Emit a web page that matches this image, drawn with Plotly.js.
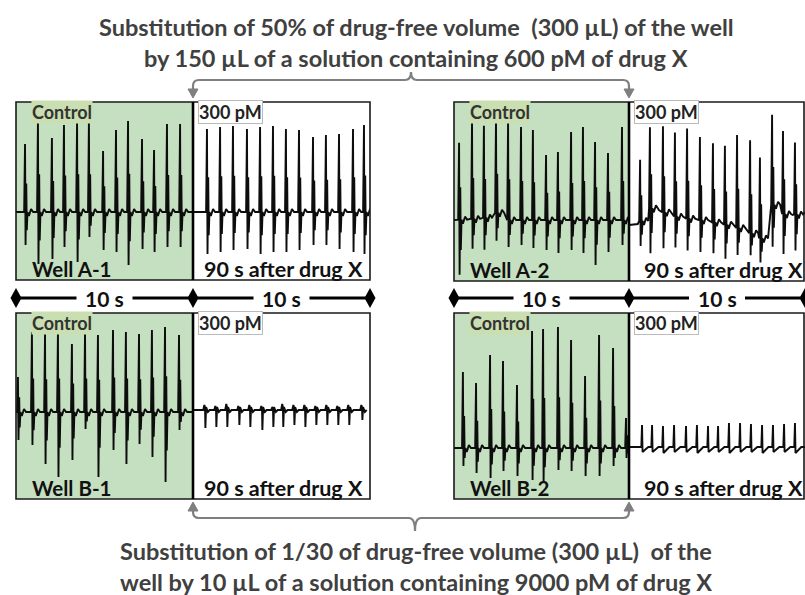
<!DOCTYPE html>
<html>
<head>
<meta charset="utf-8">
<script src="https://cdn.plot.ly/plotly-3.0.1.min.js"></script>
<style>html,body{margin:0;padding:0;background:#fff;}#chart{width:805px;height:595px;}</style>
</head>
<body>
<div id="chart"></div>
<script>
// ===== DATA (time in s, amplitude in arbitrary units, baseline = 0) =====
// Well A-1, control
const a1cTimes   = [0.51,1.24,2.03,2.71,3.45,4.12,4.92,5.65,6.33,7.12,7.80,8.53,9.27];
const a1cPeaks   = [68,90,74,87,90,90,61,82,91,73,62,88,88];
const a1cTroughs = [-33,-52,-47,-35,-50,-25,-38,-40,-53,-37,-40,-35,-35];
// Well A-1, 90 s after drug X
const a1aTimes   = [0.79,1.53,2.26,3.05,3.79,4.52,5.25,5.99,6.78,7.51,8.25,9.04,9.66];
const a1aPeaks   = [83,85,86,83,85,86,83,82,75,77,78,83,87];
const a1aTroughs = [-42,-40,-38,-37,-42,-40,-40,-38,-33,-33,-37,-40,-42];
// Well A-2, control
const a2cTimes   = [0.29,1.03,1.71,2.40,3.09,3.83,4.51,5.26,5.94,6.69,7.37,8.06,8.80,9.60];
const a2cPeaks   = [77,97,92,93,97,93,90,65,68,88,93,78,67,93];
const a2cTroughs = [-55,-30,-32,-28,-27,-25,-28,-30,-33,-30,-33,-45,-32,-25];
const a2cBaseT   = [0,1.7,2.06,2.5,3.0,8.9,9.1,9.4,10];
const a2cBaseV   = [0,2,15,5,0,0,6,0,0];
// Well A-2, 90 s after drug X
const a2aTimes   = [0.63,1.19,1.93,2.61,3.30,4.03,4.77,5.45,6.14,6.88,7.44,8.13,8.75,9.43];
const a2aPeaks   = [61,81,86,84,90,83,79,79,93,93,81,90,83,72];
const a2aTroughs = [-25,-45,-36,-31,-32,-32,-31,-34,-27,-22,-24,-42,-40,-36];
const a2aBaseT   = [0,0.5,1.0,1.36,1.7,2.2,3.0,4.0,5.0,5.8,6.5,7.2,7.6,7.75,7.9,8.2,8.7,9.3,10];
const a2aBaseV   = [-5,-4,8,15,10,5,2,0,-3,-6,-10,-16,-20,5,26,12,6,5,8];
// Well B-1, control
const b1cTimes   = [0.11,0.90,1.64,2.37,3.16,3.90,4.63,5.48,6.21,6.95,7.68,8.42,9.21];
const b1cPeaks   = [35,80,78,80,68,80,77,82,80,78,82,85,77];
const b1cTroughs = [-28,-33,-52,-65,-48,-17,-65,-38,-52,-32,-45,-70,-18];
// Well B-1, 90 s after drug X
const b1aTimes   = [0.68,1.30,1.92,2.60,3.22,3.90,4.52,5.08,5.71,6.33,6.95,7.57,8.19,8.81,9.55];
const b1aPeaks   = [5,4,6,4,5,4,3,6,5,5,4,5,4,5,5];
const b1aTroughs = [-18,-17,-17,-15,-17,-20,-17,-17,-15,-17,-15,-15,-15,-15,-10];
// Well B-2, control
const b2cTimes   = [0.51,1.26,2.06,2.80,3.60,4.46,5.09,5.94,6.69,7.49,8.29,9.09,9.83];
const b2cPeaks   = [76,65,93,87,63,117,119,121,108,72,113,100,30];
const b2cTroughs = [-18,-25,-30,-23,-28,-32,-35,-22,-23,-28,-28,-18,-10];
// Well B-2, 90 s after drug X
const b2aTimes   = [0.74,1.31,1.93,2.56,3.24,3.86,4.49,5.06,5.68,6.31,6.93,7.56,8.18,8.81,9.43];
const b2aPeaks   = [22,22,21,22,21,22,21,21,24,24,23,22,22,23,24];
const b2aTroughs = [-5,-5,-6,-5,-5,-6,-5,-5,-6,-5,-5,-6,-5,-5,-6];

// text
const wellNames   = ['Well A-1','Well A-2','Well B-1','Well B-2'];
const ctrlLabel   = 'Control';
const doseLabel   = '300 pM';
const afterLabel  = '90 s after drug X';
const scaleLabel  = '10 s';
const topText1    = 'Substitution of 50% of drug-free volume \u00a0(300 µL) of the well';
const topText2    = 'by 150 µL of a solution containing 600 pM of drug X';
const botText1    = 'Substitution of 1/30 of drug-free volume (300 µL) \u00a0of the';
const botText2    = 'well by 10 µL of a solution containing 9000 pM of drug X';

// ===== LAYOUT HELPERS =====
const W = 805, H = 595;
const X = px => px / W;
const Y = py => 1 - py / H;
const FONT = 'Lato, "Open Sans", sans-serif';

// spike templates (shape only)
const templates = {
  big:  (P,Q) => [[-0.05,0],[0,P],[0.03,Q],[0.07,0.42*P],[0.10,0.55*Q],[0.14,0],[0.22,-4],[0.34,3],[0.46,0]],
  down: (P,Q) => [[-0.10,0],[-0.04,P],[0,0.5*P],[0.02,Q],[0.06,3],[0.16,-2],[0.26,0]],
  up:   (P,Q) => [[-0.04,0],[0,P],[0.03,Q],[0.22,-2],[0.36,0]]
};

function baseAt(t, bt, bv){
  if(!bt) return 0;
  if(t <= bt[0]) return bv[0];
  for(let i=1;i<bt.length;i++){
    if(t <= bt[i]){ const f=(t-bt[i-1])/(bt[i]-bt[i-1]); return bv[i-1]+f*(bv[i]-bv[i-1]); }
  }
  return bv[bv.length-1];
}

function wave(times, peaks, troughs, kind, bt, bv){
  const pts = [];
  times.forEach((t,i)=>{
    const b = baseAt(t, bt, bv);
    templates[kind](peaks[i], troughs[i]).forEach(([dt,v])=>pts.push([t+dt, b+v]));
  });
  const knots = bt ? bt.map((t,i)=>[t,bv[i]]) : [[0,0],[10,0]];
  knots.forEach(([t,v])=>{
    const inside = times.some(s => t > s-0.11 && t < s+0.47);
    if(!inside) pts.push([t,v]);
  });
  pts.sort((a,b)=>a[0]-b[0]);
  return {x: pts.map(p=>p[0]), y: pts.map(p=>p[1])};
}

// panel geometry (px) : [x0, x1, y0, y1], y range
const panels = [
  {data:[a1cTimes,a1cPeaks,a1cTroughs,'big'],  geo:[16,193,102,280],  yr:[-68,110]},
  {data:[a1aTimes,a1aPeaks,a1aTroughs,'big'],  geo:[193,370,102,280], yr:[-68,110]},
  {data:[a2cTimes,a2cPeaks,a2cTroughs,'big',a2cBaseT,a2cBaseV], geo:[454,629,102,281], yr:[-61,118]},
  {data:[a2aTimes,a2aPeaks,a2aTroughs,'big',a2aBaseT,a2aBaseV], geo:[629,805,102,281], yr:[-61,118]},
  {data:[b1cTimes,b1cPeaks,b1cTroughs,'big'],  geo:[16,193,313,499],  yr:[-87,99]},
  {data:[b1aTimes,b1aPeaks,b1aTroughs,'down'], geo:[193,370,313,499], yr:[-89,97]},
  {data:[b2cTimes,b2cPeaks,b2cTroughs,'big'],  geo:[454,629,313,499], yr:[-51,135]},
  {data:[b2aTimes,b2aPeaks,b2aTroughs,'up'],   geo:[629,805,313,499], yr:[-52,134]}
];

const traces = [];
const layout = {
  width: W, height: H,
  margin: {l:0,r:0,t:0,b:0},
  paper_bgcolor: '#ffffff',
  plot_bgcolor: 'rgba(0,0,0,0)',
  showlegend: false,
  shapes: [], annotations: []
};

panels.forEach((p,i)=>{
  const n = i+1;
  const sfx = n===1 ? '' : n;
  const [t,pk,tr,kind,bt,bv] = p.data;
  const w = wave(t,pk,tr,kind,bt,bv);
  traces.push({type:'scatter', mode:'lines', x:w.x, y:w.y,
    xaxis: 'x'+sfx, yaxis: 'y'+sfx,
    line:{color:'#0d0d0d', width:1.9}, hoverinfo:'skip'});
  const [x0,x1,y0,y1] = p.geo;
  layout['xaxis'+sfx] = {domain:[X(x0),X(x1)], range:[0,10], visible:false, fixedrange:true, anchor:'y'+sfx};
  layout['yaxis'+sfx] = {domain:[Y(y1),Y(y0)], range:p.yr, visible:false, fixedrange:true, anchor:'x'+sfx};
});

const S = layout.shapes, A = layout.annotations;
const GREEN = '#c5e0c0';
// wells: [x0, xmid, x1, y0, y1]
const wells = [[16,193,370,102,280],[454,629,805,102,281],[16,193,370,313,499],[454,629,805,313,499]];
wells.forEach(([x0,xm,x1,y0,y1],k)=>{
  S.push({type:'rect', xref:'paper', yref:'paper', x0:X(x0), x1:X(xm), y0:Y(y1), y1:Y(y0), fillcolor:GREEN, line:{width:0}, layer:'below'});
  S.push({type:'rect', xref:'paper', yref:'paper', x0:X(x0), x1:X(Math.min(x1,804)), y0:Y(y1), y1:Y(y0), line:{color:'#1a1a1a', width:1.6}, layer:'above'});
  S.push({type:'line', xref:'paper', yref:'paper', x0:X(xm), x1:X(xm), y0:Y(y1), y1:Y(y0), line:{color:'#000', width:2.6}, layer:'above'});
  // labels
  const lblY = y0+10;
  A.push({xref:'paper', yref:'paper', x:X(x0+15), y:Y(lblY), xanchor:'left', yanchor:'middle', showarrow:false,
    text:'<b>'+ctrlLabel+'</b>', font:{family:FONT, size:18, color:'#333'}, bgcolor:'#cadfb1', borderpad:0});
  A.push({xref:'paper', yref:'paper', x:X(xm+5), y:Y(lblY), xanchor:'left', yanchor:'middle', showarrow:false,
    text:'<b>'+doseLabel+'</b>', font:{family:FONT, size:18, color:'#222'}, bgcolor:'#ffffff', bordercolor:'#bbbbbb', borderwidth:1, borderpad:0});
  const botY = y1-11;
  A.push({xref:'paper', yref:'paper', x:X(x0+14), y:Y(botY), xanchor:'left', yanchor:'middle', showarrow:false,
    text:'<b>'+wellNames[k]+'</b>', font:{family:FONT, size:20.5, color:'#111'}});
  A.push({xref:'paper', yref:'paper', x:X((xm+x1)/2+(k%2?6:2)), y:Y(botY), xanchor:'center', yanchor:'middle', showarrow:false,
    text:'<b>'+afterLabel+'</b>', font:{family:FONT, size:21.5, color:'#111'}});
});

// scale bars
[[16,193,370],[454,629,805]].forEach(([a,b,c])=>{
  const yb = 298;
  [[a,b],[b,c]].forEach(([s,e])=>{
    const mid = (s+e)/2;
    S.push({type:'line', xref:'paper', yref:'paper', x0:X(s), x1:X(mid-28), y0:Y(yb), y1:Y(yb), line:{color:'#000', width:3}});
    S.push({type:'line', xref:'paper', yref:'paper', x0:X(mid+28), x1:X(e), y0:Y(yb), y1:Y(yb), line:{color:'#000', width:3}});
    A.push({xref:'paper', yref:'paper', x:X(mid), y:Y(yb), xanchor:'center', yanchor:'middle', showarrow:false,
      text:'<b>'+scaleLabel+'</b>', font:{family:FONT, size:21, color:'#111'}});
  });
  [a,b,c].forEach(xd=>{
    S.push({type:'path', xref:'paper', yref:'paper', fillcolor:'#000', line:{width:0},
      path:`M ${X(xd)},${Y(288)} L ${X(xd+5.5)},${Y(298)} L ${X(xd)},${Y(308)} L ${X(xd-5.5)},${Y(298)} Z`});
  });
});

// braces
const GRAY = '#7f7f7f';
function bracePath(xl, xr, yLine, yEnd, xTip, yTip){
  const dir = Math.sign(yEnd - yLine);
  const r = 6;
  return `M ${X(xl)},${Y(yEnd)} L ${X(xl)},${Y(yLine+dir*r)} Q ${X(xl)},${Y(yLine)} ${X(xl+r)},${Y(yLine)} `+
         `L ${X(xTip-6)},${Y(yLine)} Q ${X(xTip)},${Y(yLine)} ${X(xTip)},${Y(yTip)} Q ${X(xTip)},${Y(yLine)} ${X(xTip+6)},${Y(yLine)} `+
         `L ${X(xr-r)},${Y(yLine)} Q ${X(xr)},${Y(yLine)} ${X(xr)},${Y(yLine+dir*r)} L ${X(xr)},${Y(yEnd)}`;
}
S.push({type:'path', xref:'paper', yref:'paper', path:bracePath(193,629,80,91,411,72), line:{color:GRAY, width:2.2}});
S.push({type:'path', xref:'paper', yref:'paper', path:bracePath(193,629,518,509,415,531), line:{color:GRAY, width:2.2}});
[[193,98,-1],[629,98,-1],[193,502,1],[629,502,1]].forEach(([xa,ya,d])=>{
  S.push({type:'path', xref:'paper', yref:'paper', fillcolor:GRAY, line:{color:GRAY, width:1},
    path:`M ${X(xa)},${Y(ya)} L ${X(xa-5)},${Y(ya + d*9)} L ${X(xa+5)},${Y(ya + d*9)} Z`});
});

// titles
const TFONT = {family:FONT, size:23.5, color:'#404040'};
[[topText1,27],[topText2,58],[botText1,551],[botText2,582]].forEach(([t,y])=>{
  A.push({xref:'paper', yref:'paper', x:X(416), y:Y(y), xanchor:'center', yanchor:'middle', showarrow:false,
    text:'<b>'+t+'</b>', font:TFONT});
});

Plotly.newPlot('chart', traces, layout, {staticPlot:true, displayModeBar:false});
</script>
</body>
</html>
